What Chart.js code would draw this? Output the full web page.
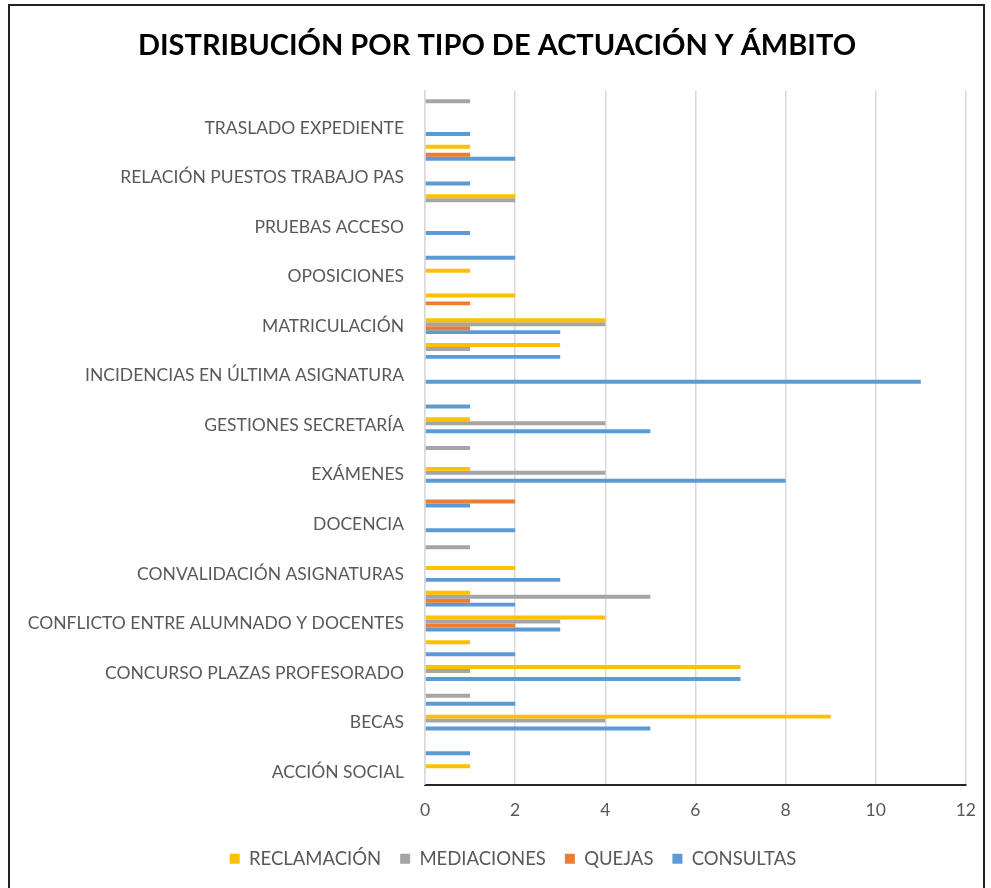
<!DOCTYPE html>
<html lang="es">
<head>
<meta charset="utf-8">
<title>Distribución por tipo de actuación y ámbito</title>
<script src="https://cdn.jsdelivr.net/npm/chart.js@4.4.1/dist/chart.umd.min.js"></script>
<style>
    html, body { margin: 0; padding: 0; background: #fff; }
    .chart-wrap { position: relative; width: 991px; height: 888px; }
    .chart-frame {
        position: absolute; left: 8px; top: 4px; width: 977px; height: 886px;
        border: 2px solid #222; box-sizing: border-box; pointer-events: none;
    }
</style>
</head>
<body>
<div class="chart-wrap">
    <canvas id="actuacionesChart" width="991" height="888"></canvas>
    <div class="chart-frame"></div>
</div>
<script>
// Categorías (de abajo arriba, orden alfabético). Excel solo rotula una de cada dos.
const categorias = [
    'ACCIÓN SOCIAL', '',
    'BECAS', '',
    'CONCURSO PLAZAS PROFESORADO', '',
    'CONFLICTO ENTRE ALUMNADO Y DOCENTES', '',
    'CONVALIDACIÓN ASIGNATURAS', '',
    'DOCENCIA', '',
    'EXÁMENES', '',
    'GESTIONES SECRETARÍA', '',
    'INCIDENCIAS EN ÚLTIMA ASIGNATURA', '',
    'MATRICULACIÓN', '',
    'OPOSICIONES', '',
    'PRUEBAS ACCESO', '',
    'RELACIÓN PUESTOS TRABAJO PAS', '',
    'TRASLADO EXPEDIENTE', ''
];

const reclamacion = [1, 0, 9, 0, 7, 1, 4, 1, 2, 0, 0, 0, 1, 0, 1, 0, 0, 3, 4, 2, 1, 0, 0, 2, 0, 1, 0, 0];
const mediaciones = [0, 0, 4, 1, 1, 0, 3, 5, 0, 1, 0, 0, 4, 1, 4, 0, 0, 1, 4, 0, 0, 0, 0, 2, 0, 0, 0, 1];
const quejas      = [0, 0, 0, 0, 0, 0, 2, 1, 0, 0, 0, 2, 0, 0, 0, 0, 0, 0, 1, 1, 0, 0, 0, 0, 0, 1, 0, 0];
const consultas   = [0, 1, 5, 2, 7, 2, 3, 2, 3, 0, 2, 1, 8, 0, 5, 1, 11, 3, 3, 0, 0, 2, 1, 0, 1, 2, 1, 0];

const ticksX = [0, 2, 4, 6, 8, 10, 12];

document.addEventListener('DOMContentLoaded', function () {
    const ctx = document.getElementById('actuacionesChart').getContext('2d');
    const textoGris = '#595959';
    const fuente = 'Lato, "Open Sans", sans-serif';

    // Desplaza la leyenda un poco a la derecha, como en el original
    const legendShift = {
        id: 'legendShift',
        afterLayout(chart) {
            chart.legend.left += 16;
            chart.legend.right += 16;
        }
    };

    new Chart(ctx, {
        type: 'bar',
        data: {
            labels: categorias,
            datasets: [
                { label: 'RECLAMACIÓN', data: reclamacion, backgroundColor: '#FFC000' },
                { label: 'MEDIACIONES', data: mediaciones, backgroundColor: '#A5A5A5' },
                { label: 'QUEJAS', data: quejas, backgroundColor: '#ED7D31' },
                { label: 'CONSULTAS', data: consultas, backgroundColor: '#5B9BD5' }
            ]
        },
        options: {
            indexAxis: 'y',
            responsive: false,
            animation: false,
            categoryPercentage: 0.64,
            barPercentage: 1,
            layout: { padding: { left: 22, right: 19, top: 0, bottom: 10 } },
            plugins: {
                title: {
                    display: true,
                    text: 'DISTRIBUCIÓN POR TIPO DE ACTUACIÓN Y ÁMBITO',
                    color: '#000',
                    font: { family: fuente, size: 29, weight: 'bold' },
                    padding: { top: 28, bottom: 28 }
                },
                legend: {
                    position: 'bottom',
                    labels: {
                        color: textoGris,
                        font: { family: fuente, size: 18.5 },
                        boxWidth: 10,
                        boxHeight: 10,
                        padding: 19
                    }
                },
                tooltip: { enabled: false }
            },
            scales: {
                x: {
                    min: 0,
                    max: 12,
                    afterBuildTicks: function (scale) {
                        scale.ticks = ticksX.map(v => ({ value: v }));
                    },
                    afterFit: function (scale) { scale.height = 46; },
                    ticks: {
                        color: textoGris,
                        font: { family: fuente, size: 17.5 },
                        padding: 15
                    },
                    grid: { color: '#d9d9d9', lineWidth: 1.5, drawTicks: false },
                    border: { color: '#262626', width: 2 }
                },
                y: {
                    reverse: true,
                    afterFit: function (scale) { scale.width = 403; },
                    ticks: {
                        color: textoGris,
                        font: { family: fuente, size: 17.5 },
                        autoSkip: false,
                        padding: 21
                    },
                    grid: { display: false, drawTicks: false },
                    border: { color: '#d9d9d9', width: 1.5 }
                }
            }
        },
        plugins: [legendShift]
    });
});
</script>
</body>
</html>
